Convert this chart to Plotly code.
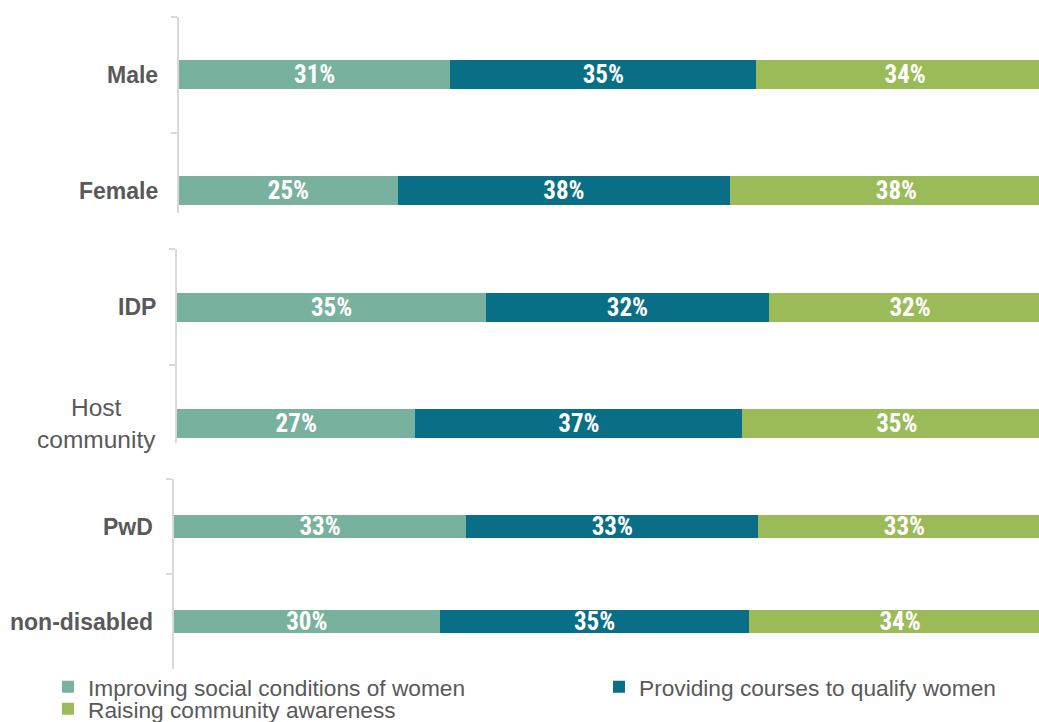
import plotly.graph_objects as go

# Respondent groups, shown as three stacked-bar panels of two rows each
panels = [
    ["Male", "Female"],
    ["IDP", "Host community"],
    ["PwD", "non-disabled"],
]
bold_label = {"Male": True, "Female": True, "IDP": True, "Host community": False,
              "PwD": True, "non-disabled": True}

# Share of answers (%) per group, in the same order as the panels
improving_social = [31, 25, 35, 27, 33, 30]
providing_courses = [35, 38, 32, 37, 33, 35]
raising_awareness = [34, 38, 32, 35, 33, 34]

series = [
    ("Improving social conditions of women", improving_social, "#78B29E"),
    ("Providing courses to qualify women", providing_courses, "#086F87"),
    ("Raising community awareness", raising_awareness, "#9BBB59"),
]

W, H = 1039, 722
GREY = "#595959"
AXIS = "#D9D9D9"
LABEL_FONT = "Roboto Condensed, Open Sans Condensed, DejaVu Sans Condensed, sans-serif"

# pixel layout of each panel: (top, bottom, left edge, x-range max, y-range bottom)
panel_px = [
    (17, 213, 179, 98.3, 1.19),
    (249, 443, 177, 97.6, 1.17),
    (479, 669, 174, 97.7, 1.5),
]
# one single-entry legend per series: (left x, vertical centre) in pixels
legend_px = [(48, 687), (599, 687), (48, 709)]

fig = go.Figure()

for p, cats in enumerate(panels):
    xa = "x" if p == 0 else f"x{p + 1}"
    ya = "y" if p == 0 else f"y{p + 1}"
    for s, (name, vals, color) in enumerate(series):
        v = vals[2 * p:2 * p + 2]
        fig.add_trace(go.Bar(
            x=v, y=cats, orientation="h", name=name,
            marker=dict(color=color, line=dict(width=0)),
            width=0.25,
            text=[f"{val}%" for val in v],
            textposition="inside", insidetextanchor="middle",
            textangle=0, constraintext="none",
            textfont=dict(family=LABEL_FONT, size=25, color="white", weight="bold"),
            legend="legend" if s == 0 else f"legend{s + 1}",
            legendgroup=name, showlegend=(p == 0),
            xaxis=xa, yaxis=ya, hoverinfo="skip",
        ))
    # category names to the left of each panel's axis line
    left = panel_px[p][2]
    for cat in cats:
        if bold_label[cat]:
            txt, size = f"<b>{cat}</b>", 23
        else:
            txt, size = cat.replace(" ", "<br>"), 24.5
        fig.add_annotation(
            text=txt,
            x=(left - 19) / W, xref="paper", xanchor="right",
            y=cat, yref=ya, yanchor="middle", align="center",
            showarrow=False, font=dict(size=size, color=GREY),
        )

layout = dict(
    width=W, height=H,
    margin=dict(l=0, r=0, t=0, b=0, autoexpand=False),
    barmode="stack",
    plot_bgcolor="white", paper_bgcolor="white",
    font=dict(family="Liberation Sans, Arial, sans-serif", color=GREY),
)

for s, (lx, ly) in enumerate(legend_px):
    key = "legend" if s == 0 else f"legend{s + 1}"
    layout[key] = dict(
        x=lx / W, xanchor="left", y=1 - ly / H, yanchor="middle",
        font=dict(size=22.7, color=GREY), itemwidth=30,
        bgcolor="rgba(0,0,0,0)", borderwidth=0,
    )

for p, (top, bot, left, xmax, ybot) in enumerate(panel_px):
    xk = "xaxis" if p == 0 else f"xaxis{p + 1}"
    yk = "yaxis" if p == 0 else f"yaxis{p + 1}"
    ya = "y" if p == 0 else f"y{p + 1}"
    xa = "x" if p == 0 else f"x{p + 1}"
    layout[xk] = dict(domain=[left / W, 1], range=[0, xmax], visible=False,
                      anchor=ya, fixedrange=True)
    layout[yk] = dict(
        domain=[1 - bot / H, 1 - top / H], anchor=xa,
        type="category", categoryorder="array", categoryarray=panels[p],
        range=[ybot, -0.5],
        tickson="boundaries", ticks="outside", ticklen=6, tickcolor=AXIS, tickwidth=2,
        showticklabels=False,
        showline=True, linecolor=AXIS, linewidth=2, showgrid=False,
        fixedrange=True,
    )

fig.update_layout(**layout)
fig.write_html("out.html", config={"displayModeBar": False})
